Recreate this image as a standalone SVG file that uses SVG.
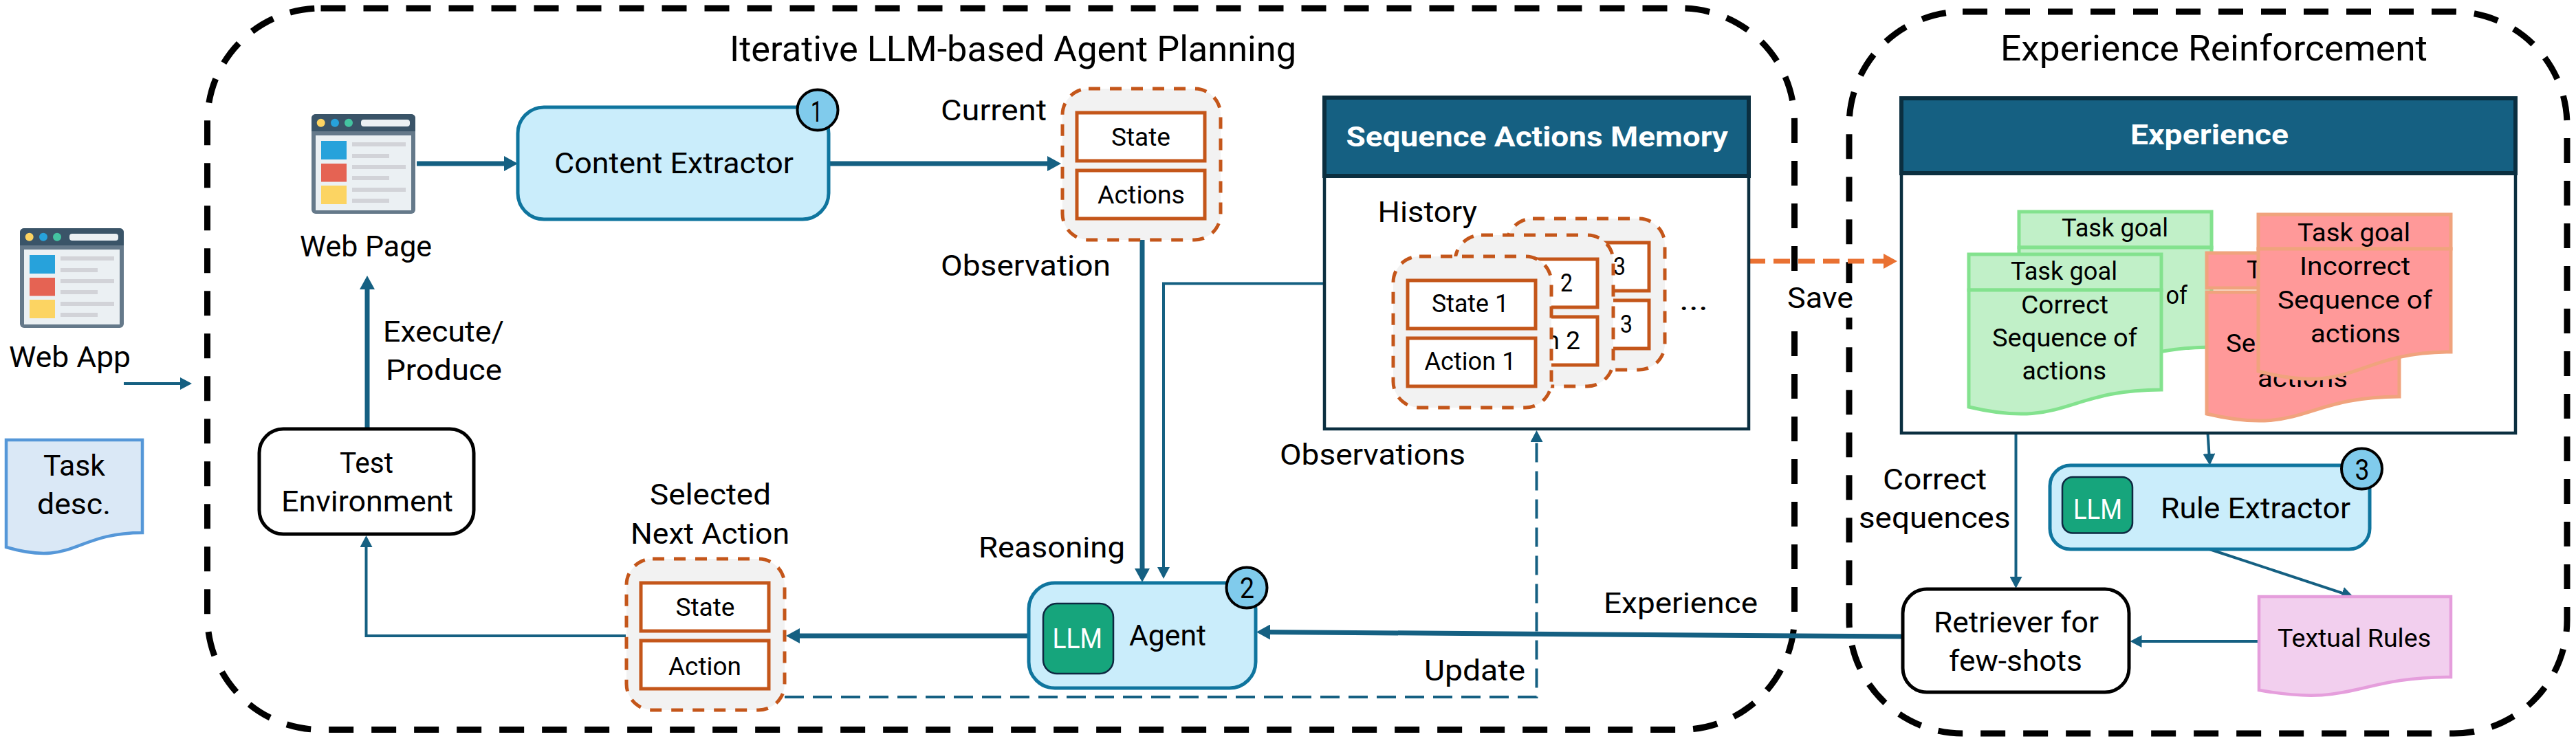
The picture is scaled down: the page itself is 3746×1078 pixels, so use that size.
<svg xmlns="http://www.w3.org/2000/svg" width="3746" height="1078" viewBox="0 0 3746 1078">
<style>
text{font-family:"Roboto","Liberation Sans",sans-serif;fill:#000;font-size:42px}
.tt{font-size:52px}.sm{font-size:37px}.dc{font-size:37px}.hd{font-size:41px;font-weight:700;fill:#fff}.wh{fill:#fff;font-size:40px}
.outer{fill:none;stroke:#000;stroke-width:9;stroke-dasharray:36 26}
.c{fill:none;stroke:#156082;stroke-width:4}
.t{stroke-width:7}
.proc{fill:#CAEDFB;stroke:#0F759E;stroke-width:5}
.term{fill:#fff;stroke:#000;stroke-width:5}
.llm{fill:#16A57C;stroke:#0E2841;stroke-width:2.5}
.bdg{fill:#80CBEC;stroke:#000;stroke-width:4}
.bg{fill:#F2F2F2;stroke:#C4561A;stroke-width:5;stroke-dasharray:17 14}
.in{fill:#fff;stroke:#C4561A;stroke-width:5}
.hdr{fill:#156082;stroke:#0B2F40;stroke-width:6}
.body{fill:#fff;stroke:#0B2F40;stroke-width:4.5}
.gr{fill:#C1F0C8;stroke:#83E28E;stroke-width:5}
.rd{fill:#FF9999;stroke:#F0A37D;stroke-width:5}
</style>
<defs>
<marker id="ah" markerUnits="userSpaceOnUse" markerWidth="20" markerHeight="22" refX="10" refY="11" orient="auto"><path d="M0 0L20 11L0 22Z" fill="#156082"/></marker>
<marker id="as" markerUnits="userSpaceOnUse" markerWidth="17" markerHeight="18" refX="8.5" refY="9" orient="auto"><path d="M0 0L17 9L0 18Z" fill="#156082"/></marker>
<marker id="ao" markerUnits="userSpaceOnUse" markerWidth="20" markerHeight="22" refX="10" refY="11" orient="auto"><path d="M0 0L20 11L0 22Z" fill="#E97132"/></marker>
<g id="icon">
<rect x="29" y="332" width="151" height="145" rx="6" fill="#65798A"/>
<path d="M29 357V338a6 6 0 0 1 6-6H174a6 6 0 0 1 6 6V357Z" fill="#3A5468"/>
<circle cx="42.7" cy="344.7" r="6" fill="#FCD462"/><circle cx="63" cy="344.7" r="6" fill="#27A2DB"/><circle cx="83" cy="344.7" r="6" fill="#44C4A1"/>
<rect x="101" y="340" width="71" height="10" rx="4" fill="#EBF0F3"/>
<rect x="35" y="363" width="139" height="109" fill="#EBF0F3"/>
<rect x="43" y="371" width="37" height="27" fill="#27A2DB"/><rect x="43" y="404" width="37" height="26.500" fill="#E56353"/><rect x="43" y="436" width="37" height="27" fill="#FCD462"/>
<path d="M88 373h78v6h-78ZM88 390h54v6h-54ZM88 406h78v6h-78ZM88 422h54v6h-54ZM88 439h78v6h-78ZM88 455h54v6h-54Z" fill="#D2D3D8"/>
</g>
<g id="stk">
<rect x="0" y="0" width="230" height="220" rx="38" class="bg"/>
<rect x="21" y="35" width="186" height="70" class="in"/>
<rect x="21" y="119" width="186" height="70" class="in"/>
</g>
</defs>

<g id="containers">
<rect id="planning-frame" x="301.500" y="12" width="2308" height="1049.500" rx="165" class="outer"/>
<rect id="reinforcement-frame" x="2689" y="17" width="1044" height="1050" rx="165" class="outer"/>
<text x="1061" y="89" class="tt" textLength="824" lengthAdjust="spacingAndGlyphs">Iterative LLM-based Agent Planning</text>
<text x="2909" y="88" class="tt" textLength="621" lengthAdjust="spacingAndGlyphs">Experience Reinforcement</text>
</g>

<g id="connectors">
<path class="c" d="M180 558H270.500" marker-end="url(#as)"/>
<path class="c t" d="M606 238H743" marker-end="url(#ah)"/>
<path class="c t" d="M1205 238H1533" marker-end="url(#ah)"/>
<path class="c t" d="M1661 349V837" marker-end="url(#ah)"/>
<path class="c" d="M1926 412.500H1692V833.500" marker-end="url(#as)"/>
<path class="c" d="M1141 1014H2234.500V634.500" stroke-dasharray="28 13" marker-end="url(#as)"/>
<path class="c t" d="M1496 925H1153" marker-end="url(#ah)"/>
<path class="c" d="M910 925H532.500V787.500" marker-end="url(#as)"/>
<path class="c t" d="M534 624V411" marker-end="url(#ah)"/>
<path class="c t" d="M2767 926L1837 919.500" marker-end="url(#ah)"/>
<path class="c t" d="M2543 380H2749" style="stroke:#E97132" stroke-dasharray="24 12" marker-end="url(#ao)"/>
<path class="c" d="M2931.500 630V847.500" marker-end="url(#as)"/>
<path class="c" d="M3210.500 630L3213 668.500" marker-end="url(#as)"/>
<path class="c" d="M3213 799L3414 865.300" marker-end="url(#as)"/>
<path class="c" d="M3283 933H3106" marker-end="url(#as)"/>
</g>

<g id="web-app">
<use href="#icon"/>
<text x="13" y="534" textLength="177" lengthAdjust="spacingAndGlyphs">Web App</text>
</g>
<g id="task-desc">
<path d="M9 640H207V775C108 775 108 825 9 796Z" fill="#DAE8F6" stroke="#5597D8" stroke-width="4.500"/>
<text x="63" y="692" textLength="90" lengthAdjust="spacingAndGlyphs">Task</text>
<text x="54" y="748" textLength="107" lengthAdjust="spacingAndGlyphs">desc.</text>
</g>
<g id="web-page">
<use href="#icon" transform="translate(424 -166)"/>
<text x="436" y="373" textLength="192" lengthAdjust="spacingAndGlyphs">Web Page</text>
</g>
<g id="execute-label">
<text x="557" y="497" textLength="176" lengthAdjust="spacingAndGlyphs">Execute/</text>
<text x="561" y="553" textLength="169" lengthAdjust="spacingAndGlyphs">Produce</text>
</g>
<g id="test-env">
<rect x="377" y="624" width="312" height="153" rx="35" class="term"/>
<text x="494" y="687.500" textLength="78" lengthAdjust="spacingAndGlyphs">Test</text>
<text x="409" y="744" textLength="250" lengthAdjust="spacingAndGlyphs">Environment</text>
</g>
<g id="content-extractor">
<rect x="753" y="156" width="452" height="163" rx="38" class="proc"/>
<text x="806" y="252" textLength="348" lengthAdjust="spacingAndGlyphs">Content Extractor</text>
<ellipse cx="1189" cy="160" rx="29.500" ry="29.500" class="bdg"/>
<text x="1179" y="177" textLength="17" lengthAdjust="spacingAndGlyphs">1</text>
</g>
<g id="current-observation">
<text x="1368" y="175" textLength="154" lengthAdjust="spacingAndGlyphs">Current</text>
<use href="#stk" transform="translate(1545 129)"/>
<text x="1616" y="212" class="sm" textLength="86" lengthAdjust="spacingAndGlyphs">State</text>
<text x="1596" y="296" class="sm" textLength="127" lengthAdjust="spacingAndGlyphs">Actions</text>
<text x="1368" y="401" textLength="247" lengthAdjust="spacingAndGlyphs">Observation</text>
</g>
<g id="memory">
<rect x="1926" y="256" width="617" height="368" class="body"/>
<rect x="1926" y="142" width="617" height="114" class="hdr"/>
<text x="1957.500" y="213" class="hd" textLength="555.500" lengthAdjust="spacingAndGlyphs">Sequence Actions Memory</text>
<text x="2003.500" y="323" textLength="144.500" lengthAdjust="spacingAndGlyphs">History</text>
<use href="#stk" transform="translate(2191 318)"/>
<text x="2346" y="400" class="sm" textLength="18" lengthAdjust="spacingAndGlyphs">3</text>
<text x="2356" y="484" class="sm" textLength="18" lengthAdjust="spacingAndGlyphs">3</text>
<use href="#stk" transform="translate(2116 342)"/>
<text x="2269" y="424" class="sm" textLength="18" lengthAdjust="spacingAndGlyphs">2</text>
<text x="2298" y="508" class="sm" text-anchor="end">n 2</text>
<use href="#stk" transform="translate(2026 373)"/>
<text x="2082" y="454" class="sm" textLength="112" lengthAdjust="spacingAndGlyphs">State 1</text>
<text x="2071.500" y="538" class="sm" textLength="133" lengthAdjust="spacingAndGlyphs">Action 1</text>
<text x="2442" y="451" textLength="42" lengthAdjust="spacingAndGlyphs">...</text>
</g>
<text id="observations-label" x="1861" y="676" textLength="270" lengthAdjust="spacingAndGlyphs">Observations</text>
<g id="selected-action">
<text x="945" y="734" textLength="176" lengthAdjust="spacingAndGlyphs">Selected</text>
<text x="917" y="791" textLength="231" lengthAdjust="spacingAndGlyphs">Next Action</text>
<use href="#stk" transform="translate(911 813)"/>
<text x="982.500" y="896" class="sm" textLength="86" lengthAdjust="spacingAndGlyphs">State</text>
<text x="972" y="982" class="sm" textLength="106" lengthAdjust="spacingAndGlyphs">Action</text>
</g>
<text id="reasoning-label" x="1423" y="811" textLength="213" lengthAdjust="spacingAndGlyphs">Reasoning</text>
<g id="agent">
<rect x="1496" y="848" width="330" height="153" rx="38" class="proc"/>
<rect x="1517" y="878" width="102" height="102" rx="20" class="llm"/>
<text x="1530.500" y="943" class="wh" textLength="72.500" lengthAdjust="spacingAndGlyphs">LLM</text>
<text x="1642" y="939" textLength="112" lengthAdjust="spacingAndGlyphs">Agent</text>
<ellipse cx="1813" cy="855" rx="29.500" ry="29.500" class="bdg"/>
<text x="1803" y="870" textLength="21" lengthAdjust="spacingAndGlyphs">2</text>
</g>
<text id="update-label" x="2071" y="990" textLength="147" lengthAdjust="spacingAndGlyphs">Update</text>
<text id="experience-label" x="2332" y="892" textLength="224" lengthAdjust="spacingAndGlyphs">Experience</text>
<g id="save-label">
<rect x="2597" y="412" width="100" height="50" fill="#fff"/>
<text x="2599" y="448" textLength="96" lengthAdjust="spacingAndGlyphs">Save</text>
</g>
<g id="experience">
<rect x="2765" y="252" width="893" height="378" class="body"/>
<rect x="2765" y="143" width="893" height="109" class="hdr"/>
<text x="3098" y="210" class="hd" textLength="230" lengthAdjust="spacingAndGlyphs">Experience</text>

<g id="green-back">
<rect x="2936" y="308" width="280" height="52" class="gr"/>
<path d="M2936 360H3216V505C3076 505 3076 563 2936 530Z" class="gr"/>
<text x="2998" y="344" class="dc" textLength="155" lengthAdjust="spacingAndGlyphs">Task goal</text>
<text x="3149.500" y="442" class="dc" textLength="31.500" lengthAdjust="spacingAndGlyphs">of</text>
</g>
<g id="green-front">
<rect x="2863" y="370" width="280" height="52" class="gr"/>
<path d="M2863 422H3143V567C3003 567 3003 625 2863 592Z" class="gr"/>
<text x="2924" y="407" class="dc" textLength="155" lengthAdjust="spacingAndGlyphs">Task goal</text>
<text x="2939" y="456" class="dc" textLength="127" lengthAdjust="spacingAndGlyphs">Correct</text>
<text x="2897" y="504" class="dc" textLength="211" lengthAdjust="spacingAndGlyphs">Sequence of</text>
<text x="2940.500" y="552" class="dc" textLength="122.500" lengthAdjust="spacingAndGlyphs">actions</text>
</g>
<g id="red-back">
<rect x="3209" y="368" width="280" height="51" class="rd"/>
<path d="M3209 425H3489V577C3349 577 3349 635 3209 602Z" class="rd"/>
<text x="3267" y="405" class="dc">T</text>
<text x="3237" y="512" class="dc" textLength="43" lengthAdjust="spacingAndGlyphs">Se</text>
<text x="3283" y="563" class="dc" textLength="131" lengthAdjust="spacingAndGlyphs">actions</text>
</g>
<g id="red-front">
<rect x="3284" y="312" width="280" height="50" class="rd"/>
<path d="M3284 362H3564V512C3424 512 3424 577 3284 540Z" class="rd"/>
<text x="3341" y="351" class="dc" textLength="164" lengthAdjust="spacingAndGlyphs">Task goal</text>
<text x="3344" y="400" class="dc" textLength="161" lengthAdjust="spacingAndGlyphs">Incorrect</text>
<text x="3312" y="449" class="dc" textLength="225" lengthAdjust="spacingAndGlyphs">Sequence of</text>
<text x="3360" y="498" class="dc" textLength="131" lengthAdjust="spacingAndGlyphs">actions</text>
</g>
</g>
<g id="correct-label">
<text x="2738" y="712" textLength="151" lengthAdjust="spacingAndGlyphs">Correct</text>
<text x="2703" y="768" textLength="220.500" lengthAdjust="spacingAndGlyphs">sequences</text>
</g>
<g id="rule-extractor">
<rect x="2981" y="677" width="465" height="122" rx="30" class="proc"/>
<rect x="2999" y="694" width="102" height="81.500" rx="15" class="llm"/>
<text x="3015" y="755" class="wh" textLength="71" lengthAdjust="spacingAndGlyphs">LLM</text>
<text x="3142" y="753.500" textLength="276" lengthAdjust="spacingAndGlyphs">Rule Extractor</text>
<ellipse cx="3434.500" cy="682" rx="29.500" ry="29.500" class="bdg"/>
<text x="3424.500" y="698" textLength="21" lengthAdjust="spacingAndGlyphs">3</text>
</g>
<g id="textual-rules">
<path d="M3285 868H3564V985C3424 985 3424 1029 3285 1004Z" fill="#F2CFEE" stroke="#E59EDC" stroke-width="4.500"/>
<text x="3312" y="940.500" class="dc" textLength="223" lengthAdjust="spacingAndGlyphs">Textual Rules</text>
</g>
<g id="retriever">
<rect x="2767" y="857" width="329" height="150" rx="35" class="term"/>
<text x="2812" y="920" textLength="240" lengthAdjust="spacingAndGlyphs">Retriever for</text>
<text x="2834" y="976" textLength="194" lengthAdjust="spacingAndGlyphs">few-shots</text>
</g>
</svg>
